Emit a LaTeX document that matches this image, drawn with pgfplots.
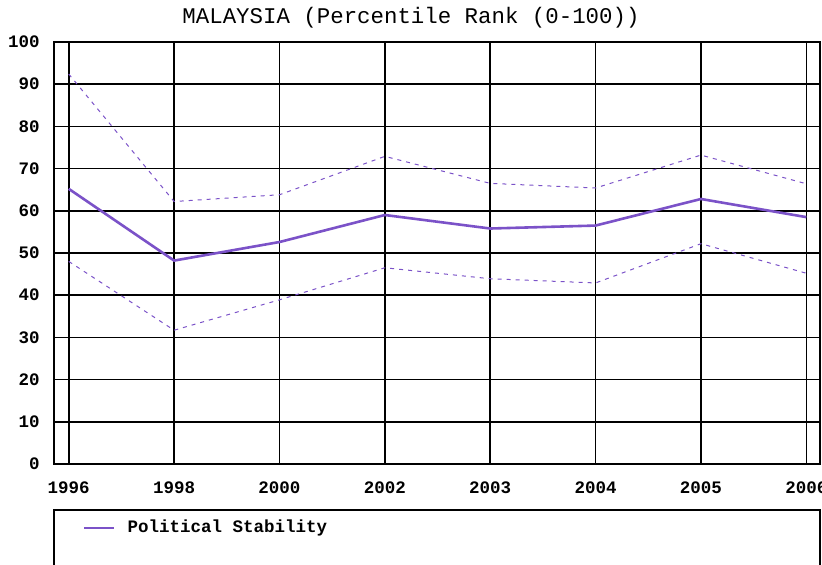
\documentclass[border=0pt]{standalone}
\usepackage{pgfplots}
\pgfplotsset{compat=1.18}
\usepackage{fontspec}
\newfontfamily\monofont{Liberation Mono}
\definecolor{pstab}{RGB}{123,82,200}

\begin{document}
\begin{tikzpicture}
% 1px of the reference = 0.5pt
\useasboundingbox (-27pt,-50.5pt) rectangle (384pt,232pt);
\begin{axis}[
  at={(0pt,0pt)}, anchor=south west,
  scale only axis, width=383pt, height=211pt,
  xmin=-0.14, xmax=7.13, ymin=0, ymax=100,
  xtick={0,...,7},
  xticklabels={1996,1998,2000,2002,2003,2004,2005,2006},
  ytick={0,10,...,100},
  major tick length=0pt,
  grid=major,
  major grid style={black, line width=0.8pt},
  axis line style={black, line width=0.8pt},
  /pgf/number format/assume math mode=true,
  ticklabel style={font=\monofont\bfseries\fontsize{8.75}{10}\selectfont, inner sep=0pt},
  yticklabel style={anchor=east, xshift=-7pt},
  xticklabel style={anchor=north, yshift=-8.5pt},
  legend style={draw=none, fill=none, at={(0.0379,-0.1517)}, anchor=west,
    inner sep=0pt, outer sep=0pt,
    font=\monofont\bfseries\fontsize{8.75}{10}\selectfont},
  legend image code/.code={\draw[#1] (0pt,0pt) -- (15pt,0pt); \path (19pt,0pt);},
  clip=false,
]
\addplot[pstab, line width=1.3pt] coordinates {
  (0,65.2) (1,48.2) (2,52.6) (3,59.0) (4,55.8) (5,56.5) (6,62.8) (7,58.5)};
\addlegendentry{Political Stability}
\addplot[pstab, line width=0.5pt, dash pattern=on 2pt off 2.5pt, forget plot] coordinates {
  (0,92.4) (1,62.2) (2,63.8) (3,72.9) (4,66.5) (5,65.4) (6,73.2) (7,66.4)};
\addplot[pstab, line width=0.5pt, dash pattern=on 2pt off 2.5pt, forget plot] coordinates {
  (0,48.0) (1,31.7) (2,38.9) (3,46.5) (4,43.9) (5,42.9) (6,52.2) (7,45.2)};
\end{axis}
\node[font=\monofont\fontsize{11.2}{13}\selectfont] at (178.5pt,223pt) {MALAYSIA (Percentile Rank (0-100))};
\draw[black, line width=0.8pt] (0pt,-23pt) rectangle (383pt,-70pt);
\end{tikzpicture}
\end{document}
